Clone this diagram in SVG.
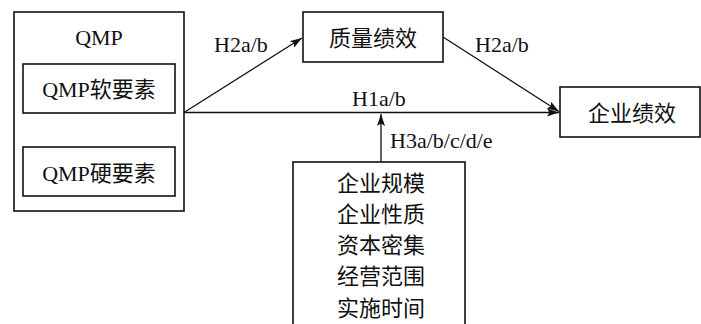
<svg xmlns="http://www.w3.org/2000/svg" width="701" height="324" viewBox="0 0 701 324">
<style>
.box{fill:#fff;stroke:#111;stroke-width:1.6}
.ln{stroke:#111;stroke-width:1.3;fill:none}
text{font-family:"Liberation Serif","Noto Sans CJK SC",serif;font-size:22px;fill:#111}
.c{text-anchor:middle}
</style>
<defs>
<marker id="ah" viewBox="0 0 12 8" refX="12" refY="4" markerWidth="12" markerHeight="8" markerUnits="userSpaceOnUse" orient="auto">
<path d="M0,0 L12,4 L0,8 L2.5,4 Z" fill="#111"/>
</marker>
</defs>
<rect width="701" height="324" fill="#fff"/>
<g id="connectors">
<line class="ln" x1="184" y1="112.5" x2="559" y2="112.5" marker-end="url(#ah)"/>
<line class="ln" x1="184" y1="112.5" x2="302" y2="38" marker-end="url(#ah)"/>
<line class="ln" x1="443" y1="37" x2="559" y2="111.5" marker-end="url(#ah)"/>
<line class="ln" x1="381" y1="162" x2="381" y2="114" marker-end="url(#ah)"/>
<text x="214" y="52">H2a/b</text>
<text x="475" y="52">H2a/b</text>
<text class="c" x="379" y="106">H1a/b</text>
<text x="390" y="148">H3a/b/c/d/e</text>
</g>
<g id="qmp">
<rect class="box" x="14" y="12" width="170" height="199"/>
<text class="c" x="99" y="45">QMP</text>
</g>
<g id="qmp-soft">
<rect class="box" x="23" y="64" width="152" height="49"/>
<text class="c" x="99" y="97">QMP软要素</text>
</g>
<g id="qmp-hard">
<rect class="box" x="23" y="147" width="152" height="49"/>
<text class="c" x="99" y="181">QMP硬要素</text>
</g>
<g id="quality">
<rect class="box" x="303" y="12" width="140" height="50"/>
<text class="c" x="373" y="46">质量绩效</text>
</g>
<g id="firm">
<rect class="box" x="560" y="87" width="140" height="50"/>
<text class="c" x="632" y="121">企业绩效</text>
</g>
<g id="controls">
<rect class="box" x="293" y="162" width="172" height="180"/>
<text class="c" x="381" y="190.5">企业规模</text>
<text class="c" x="381" y="221.5">企业性质</text>
<text class="c" x="381" y="253">资本密集</text>
<text class="c" x="381" y="284">经营范围</text>
<text class="c" x="381" y="315.5">实施时间</text>
</g>
</svg>
